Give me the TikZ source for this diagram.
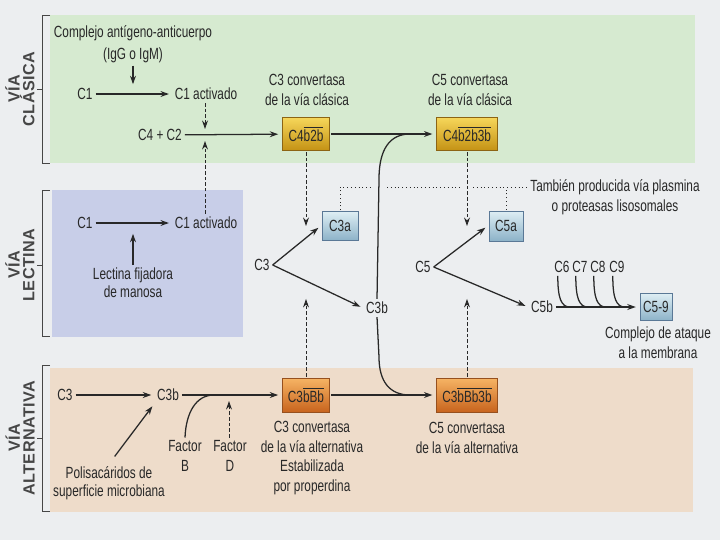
\documentclass[tikz,border=0pt]{standalone}
\usepackage{fontspec}
\setmainfont{Liberation Sans}[FakeStretch=0.73]
\newfontfamily\viafont{Liberation Sans}[LetterSpace=3]
\usetikzlibrary{calc,arrows.meta}
\tikzset{>={Stealth[length=6pt,width=4.2pt]}}

\definecolor{pagebg}{RGB}{236,238,240}
\definecolor{clasbg}{RGB}{214,234,208}
\definecolor{lectbg}{RGB}{200,206,232}
\definecolor{altbg}{RGB}{238,220,202}
\definecolor{ink}{RGB}{40,40,40}
\definecolor{viaink}{RGB}{70,70,70}
\definecolor{goldtop}{RGB}{246,214,90}
\definecolor{goldbot}{RGB}{196,146,20}
\definecolor{golddk}{RGB}{140,100,20}
\definecolor{orgtop}{RGB}{246,180,100}
\definecolor{orgbot}{RGB}{200,100,30}
\definecolor{orgdk}{RGB}{150,80,30}
\definecolor{fragtop}{RGB}{222,238,244}
\definecolor{fragbot}{RGB}{140,178,200}
\definecolor{fragdk}{RGB}{90,120,150}

\newcommand\ovl[1]{$\overline{\mbox{#1}}$}

\tikzset{
  arr/.style={->,line width=0.9pt,draw=ink,shorten >=2pt},
  ln/.style={line width=0.9pt,draw=ink},
  dasharr/.style={->,line width=0.7pt,draw=ink,dash pattern=on 2.5pt off 1.5pt},
  dotln/.style={line width=0.7pt,draw=ink,dotted},
  brk/.style={line width=0.6pt,draw=viaink},
  vialab/.style={rotate=90,text=viaink,font=\viafont\bfseries\fontsize{11.5}{10.5}\selectfont},
  goldbox/.style={draw=golddk,top color=goldtop,bottom color=goldbot,
    minimum width=1.18cm,minimum height=0.83cm,inner sep=0pt,outer sep=1pt},
  orgbox/.style={draw=orgdk,top color=orgtop,bottom color=orgbot,
    minimum width=1.18cm,minimum height=0.85cm,inner sep=0pt,outer sep=1pt},
  fragbox/.style={draw=fragdk,top color=fragtop,bottom color=fragbot,
    minimum width=0.9cm,minimum height=0.72cm,inner sep=0pt,outer sep=1pt}
}

\begin{document}
\begin{tikzpicture}[x=0.025cm,y=-0.025cm,
  every node/.style={font=\fontsize{11.5}{14}\selectfont,text=ink,inner sep=2pt,align=center}]
\fill[pagebg] (0,0) rectangle (720,540);
\fill[clasbg] (50,15) rectangle (695,163);
\fill[lectbg] (52,190) rectangle (243,337);
\fill[altbg] (50,368) rectangle (693,512);
\foreach \t/\b/\m in {15/163/89,190/336/265,365/511/438}
  \draw[brk] (50,\t) -- (42,\t) -- (42,\b) -- (50,\b) (42,\m) -- (37,\m);
\node[vialab] (vcla) at (20,89) {VÍA\\CLÁSICA};
\node[vialab] (vlec) at (20,265) {VÍA\\LECTINA};
\node[vialab] (valt) at (20,438) {VÍA\\ALTERNATIVA};

% via clasica
\node[font=\fontsize{11.5}{15.5}\selectfont] (ag) at (133,44)
  {Complejo antígeno-anticuerpo\\(IgG o IgM)};
\node (c1c) at (85,94) {C1};
\node (c1ac) at (206,94) {C1 activado};
\coordinate (jag) at (133,87);
\draw[arr] (ag) -- (jag);
\draw[arr] (c1c) -- (c1ac);
\node (c4c2) at (160,135) {C4 + C2};
\node[goldbox] (c4b2b) at (306,134) {C4\ovl{b2b}};
\draw[arr] (c4c2) -- (c4b2b);
\coordinate (jc1) at (205,129);
\draw[dasharr] (c1ac.south -| jc1) -- (jc1);
\node (conv3c) at (307,90) {C3 convertasa\\de la vía clásica};
\node[goldbox,minimum width=1.52cm] (c4b2b3b) at (467,134) {C4\ovl{b2b3b}};
\node (conv5c) at (470,90) {C5 convertasa\\de la vía clásica};
\draw[arr] (c4b2b) -- (c4b2b3b);

% via lectina
\node (c1l) at (85,223) {C1};
\node (c1al) at (206,223) {C1 activado};
\draw[arr] (c1l) -- (c1al);
\node[font=\fontsize{11.5}{12.5}\selectfont] (lect) at (133,283) {Lectina fijadora\\de manosa};
\coordinate (jlec) at (133,231);
\draw[arr] (lect) -- (jlec);
\coordinate (jc2) at (205,141);
\draw[dasharr] (c1al.north -| jc2) -- (jc2);

% fragmentos
\node (c3l) at (262,265) {C3};
\node[fragbox] (c3a) at (340,226) {C3a};
\node (c3bm) at (377,308) {C3b};
\draw[arr] (c3l.east) -- (c3a.west);
\draw[arr] (c3l.east) -- (c3bm.west);
\node (c5l) at (423,267) {C5};
\node[fragbox,minimum width=0.85cm,minimum height=0.75cm] (c5a) at (506,226) {C5a};
\node (c5b) at (542,307) {C5b};
\draw[arr] (c5l.east) -- (c5a.west);
\draw[arr] (c5l.east) -- (c5b.west);
\node[fragbox,minimum width=0.8cm,minimum height=0.68cm] (c59) at (656,307) {C5-9};
\draw[arr] (c5b) -- (c59);
\foreach \n/\x in {6/562,7/580,8/598,9/617}{
  \node (c\n) at (\x,267) {C\n};
  \draw[ln] ([xshift=-3pt]c\n.south) .. controls +(0,22) and +(-9,0) .. (\x+8,307);
}
\node[font=\fontsize{11.5}{14.5}\selectfont] (clab) at (658,343) {Complejo de ataque\\a la membrana};
\node (tamb) at (615,197) {También producida vía plasmina\\o proteasas lisosomales};
\coordinate (d0) at (340,187);
\coordinate (d1) at (373,187);
\coordinate (d2) at (387,187);
\coordinate (d3) at (461,187);
\coordinate (d4) at (473,187);
\draw[dotln] (c3a.north) -- (d0) -- (d1) (d2) -- (d3) (d4) -- (tamb.west |- d4);
\draw[dotln] (c5a.north) -- (c5a.north |- d4);

% via alternativa
\node (c3alt) at (65,395) {C3};
\node (c3balt) at (168,395) {C3b};
\draw[arr] (c3alt) -- (c3balt);
\node[orgbox] (c3bbb) at (306,395) {C3\ovl{bBb}};
\draw[arr] (c3balt) -- (c3bbb);
\node[font=\fontsize{11.5}{12.5}\selectfont] (polis) at (109,483) {Polisacáridos de\\superficie microbiana};
\draw[arr] ([xshift=4pt,yshift=5pt]polis.north) -- (c3balt.south west);
\node (facb) at (185,456) {Factor\\B};
\coordinate (jfb) at (214,395);
\draw[ln] (facb.north) .. controls +(1,-25) and +(-18,0) .. (jfb);
\node (facd) at (230,456) {Factor\\D};
\coordinate (jfd) at (229,401);
\draw[dasharr] (facd.north -| jfd) -- (jfd);
\node (conv3a) at (312,458) {C3 convertasa\\de la vía alternativa\\Estabilizada\\por properdina};
\node[orgbox,minimum width=1.52cm] (c3bbb3b) at (467,395) {C3\ovl{bBb3b}};
\draw[arr] (c3bbb) -- (c3bbb3b);
\node (conv5a) at (467,438) {C5 convertasa\\de la vía alternativa};

% conexiones verticales
\draw[dasharr] (c4b2b.south) -- (c4b2b.south |- c3a);
\draw[dasharr] (c4b2b3b.south) -- (c4b2b3b.south |- c3a);
\draw[dasharr] (c3bbb.north) -- (c3bbb.north |- c3bm.north);
\draw[dasharr] (c3bbb3b.north) -- (c3bbb3b.north |- c3bm.north);
\coordinate (jt) at (410,134);
\coordinate (jb) at (410,395);
\draw[ln] (c3bm.north) -- ++(2,-120) .. controls +(0,-30) and +(-20,0) .. (jt);
\draw[ln] (c3bm.south) -- ++(2,40) .. controls +(0,25) and +(-20,0) .. (jb);
\end{tikzpicture}
\end{document}
